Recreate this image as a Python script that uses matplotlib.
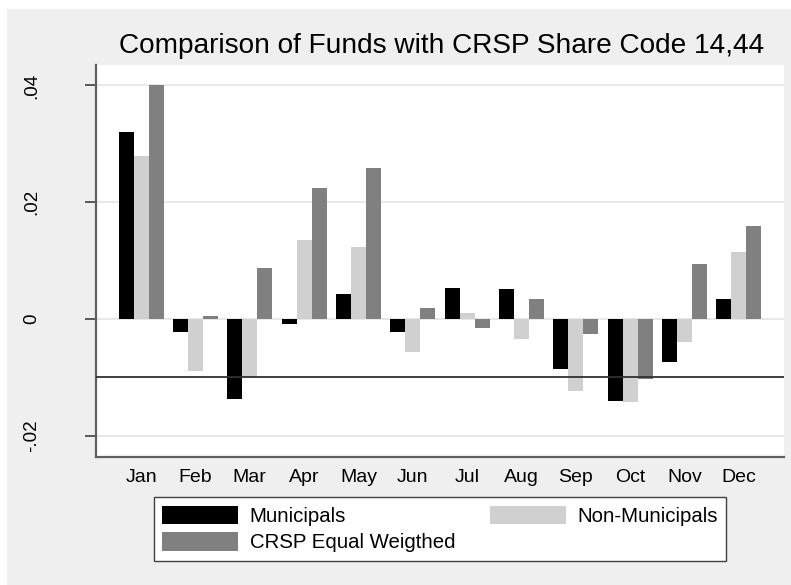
import matplotlib
matplotlib.use("Agg")
import matplotlib.pyplot as plt
import numpy as np
from matplotlib.patches import Rectangle, Patch

plt.rcParams['font.family'] = ['Liberation Sans', 'DejaVu Sans']

months = ["Jan", "Feb", "Mar", "Apr", "May", "Jun", "Jul", "Aug", "Sep", "Oct", "Nov", "Dec"]
municipals = [0.0320, -0.0022, -0.0137, -0.0008, 0.0043, -0.0022, 0.0053, 0.0051, -0.0086, -0.0141, -0.0074, 0.0034]
non_municipals = [0.0280, -0.0089, -0.0100, 0.0135, 0.0124, -0.0056, 0.0011, -0.0034, -0.0123, -0.0143, -0.0040, 0.0115]
crsp_equal = [0.0400, 0.0005, 0.0088, 0.0224, 0.0258, 0.0018, -0.0015, 0.0034, -0.0025, -0.0103, 0.0095, 0.0160]
yticks = [-0.02, 0, 0.02, 0.04]
ytick_labels = ["-.02", "0", ".02", ".04"]
ref_line = -0.01
title = "Comparison of Funds with CRSP Share Code 14,44"
series_names = ["Municipals", "Non-Municipals", "CRSP Equal Weigthed"]

c_muni = "#000000"
c_non = "#D0D0D0"
c_crsp = "#808080"
bg = "#EFEFEF"

W, H = 791, 585
fig = plt.figure(figsize=(W / 100, H / 100), dpi=100, facecolor="white")
fig.patches.append(Rectangle((7 / W, 0.5 / H), 1 - 7 / W, (H - 9.5) / H, transform=fig.transFigure,
                             facecolor=bg, edgecolor="none", zorder=-10))

ax = fig.add_axes([96 / W, 1 - 457 / H, (784 - 96) / W, (457 - 65) / H])
ax.set_facecolor("white")

x = np.arange(len(months))
bw = 0.276
ax.bar(x - bw, municipals, bw, color=c_muni, zorder=3, linewidth=0)
ax.bar(x, non_municipals, bw, color=c_non, zorder=3, linewidth=0)
ax.bar(x + bw, crsp_equal, bw, color=c_crsp, zorder=3, linewidth=0)

ax.axhline(ref_line, color="#303030", lw=1.3, zorder=4)

ax.set_xlim(-0.83, 11.83)
ax.set_ylim(-0.02364, 0.04351)
ax.set_yticks(yticks)
ax.set_yticklabels(ytick_labels, rotation=90, va="center", fontsize=13.5)
ax.set_xticks(x)
ax.set_xticklabels(months, fontsize=14)
ax.tick_params(axis="x", length=0, pad=9)
ax.tick_params(axis="y", length=8, width=1.2, color="#404040", pad=32)
ax.grid(axis="y", color="#E6E6E6", lw=1.3, zorder=0)
ax.set_axisbelow(True)

for s in ["top", "right"]:
    ax.spines[s].set_visible(False)
for s in ["left", "bottom"]:
    ax.spines[s].set_color("#606060")
    ax.spines[s].set_linewidth(1.6)

fig.text(441.5 / W, 1 - 46 / H, title, ha="center", va="center", fontsize=20.2)

handles = [Patch(facecolor=c_muni, edgecolor="none", label=series_names[0]),
           Patch(facecolor=c_crsp, edgecolor="none", label=series_names[2]),
           Patch(facecolor=c_non, edgecolor="none", label=series_names[1])]
leg = fig.legend(handles=handles, ncol=2, loc="center", bbox_to_anchor=(440 / W, 1 - 529 / H),
                 fontsize=14.7, handlelength=3.75, handleheight=1.03, handletextpad=0.55,
                 columnspacing=1.7, labelspacing=0.3, borderpad=0.4, frameon=True,
                 fancybox=False)
leg.get_frame().set_edgecolor("#404040")
leg.get_frame().set_linewidth(1.0)
leg.get_frame().set_facecolor("white")
leg.get_frame().set_alpha(1)

fig.savefig("out.png", dpi=100, facecolor="white")
